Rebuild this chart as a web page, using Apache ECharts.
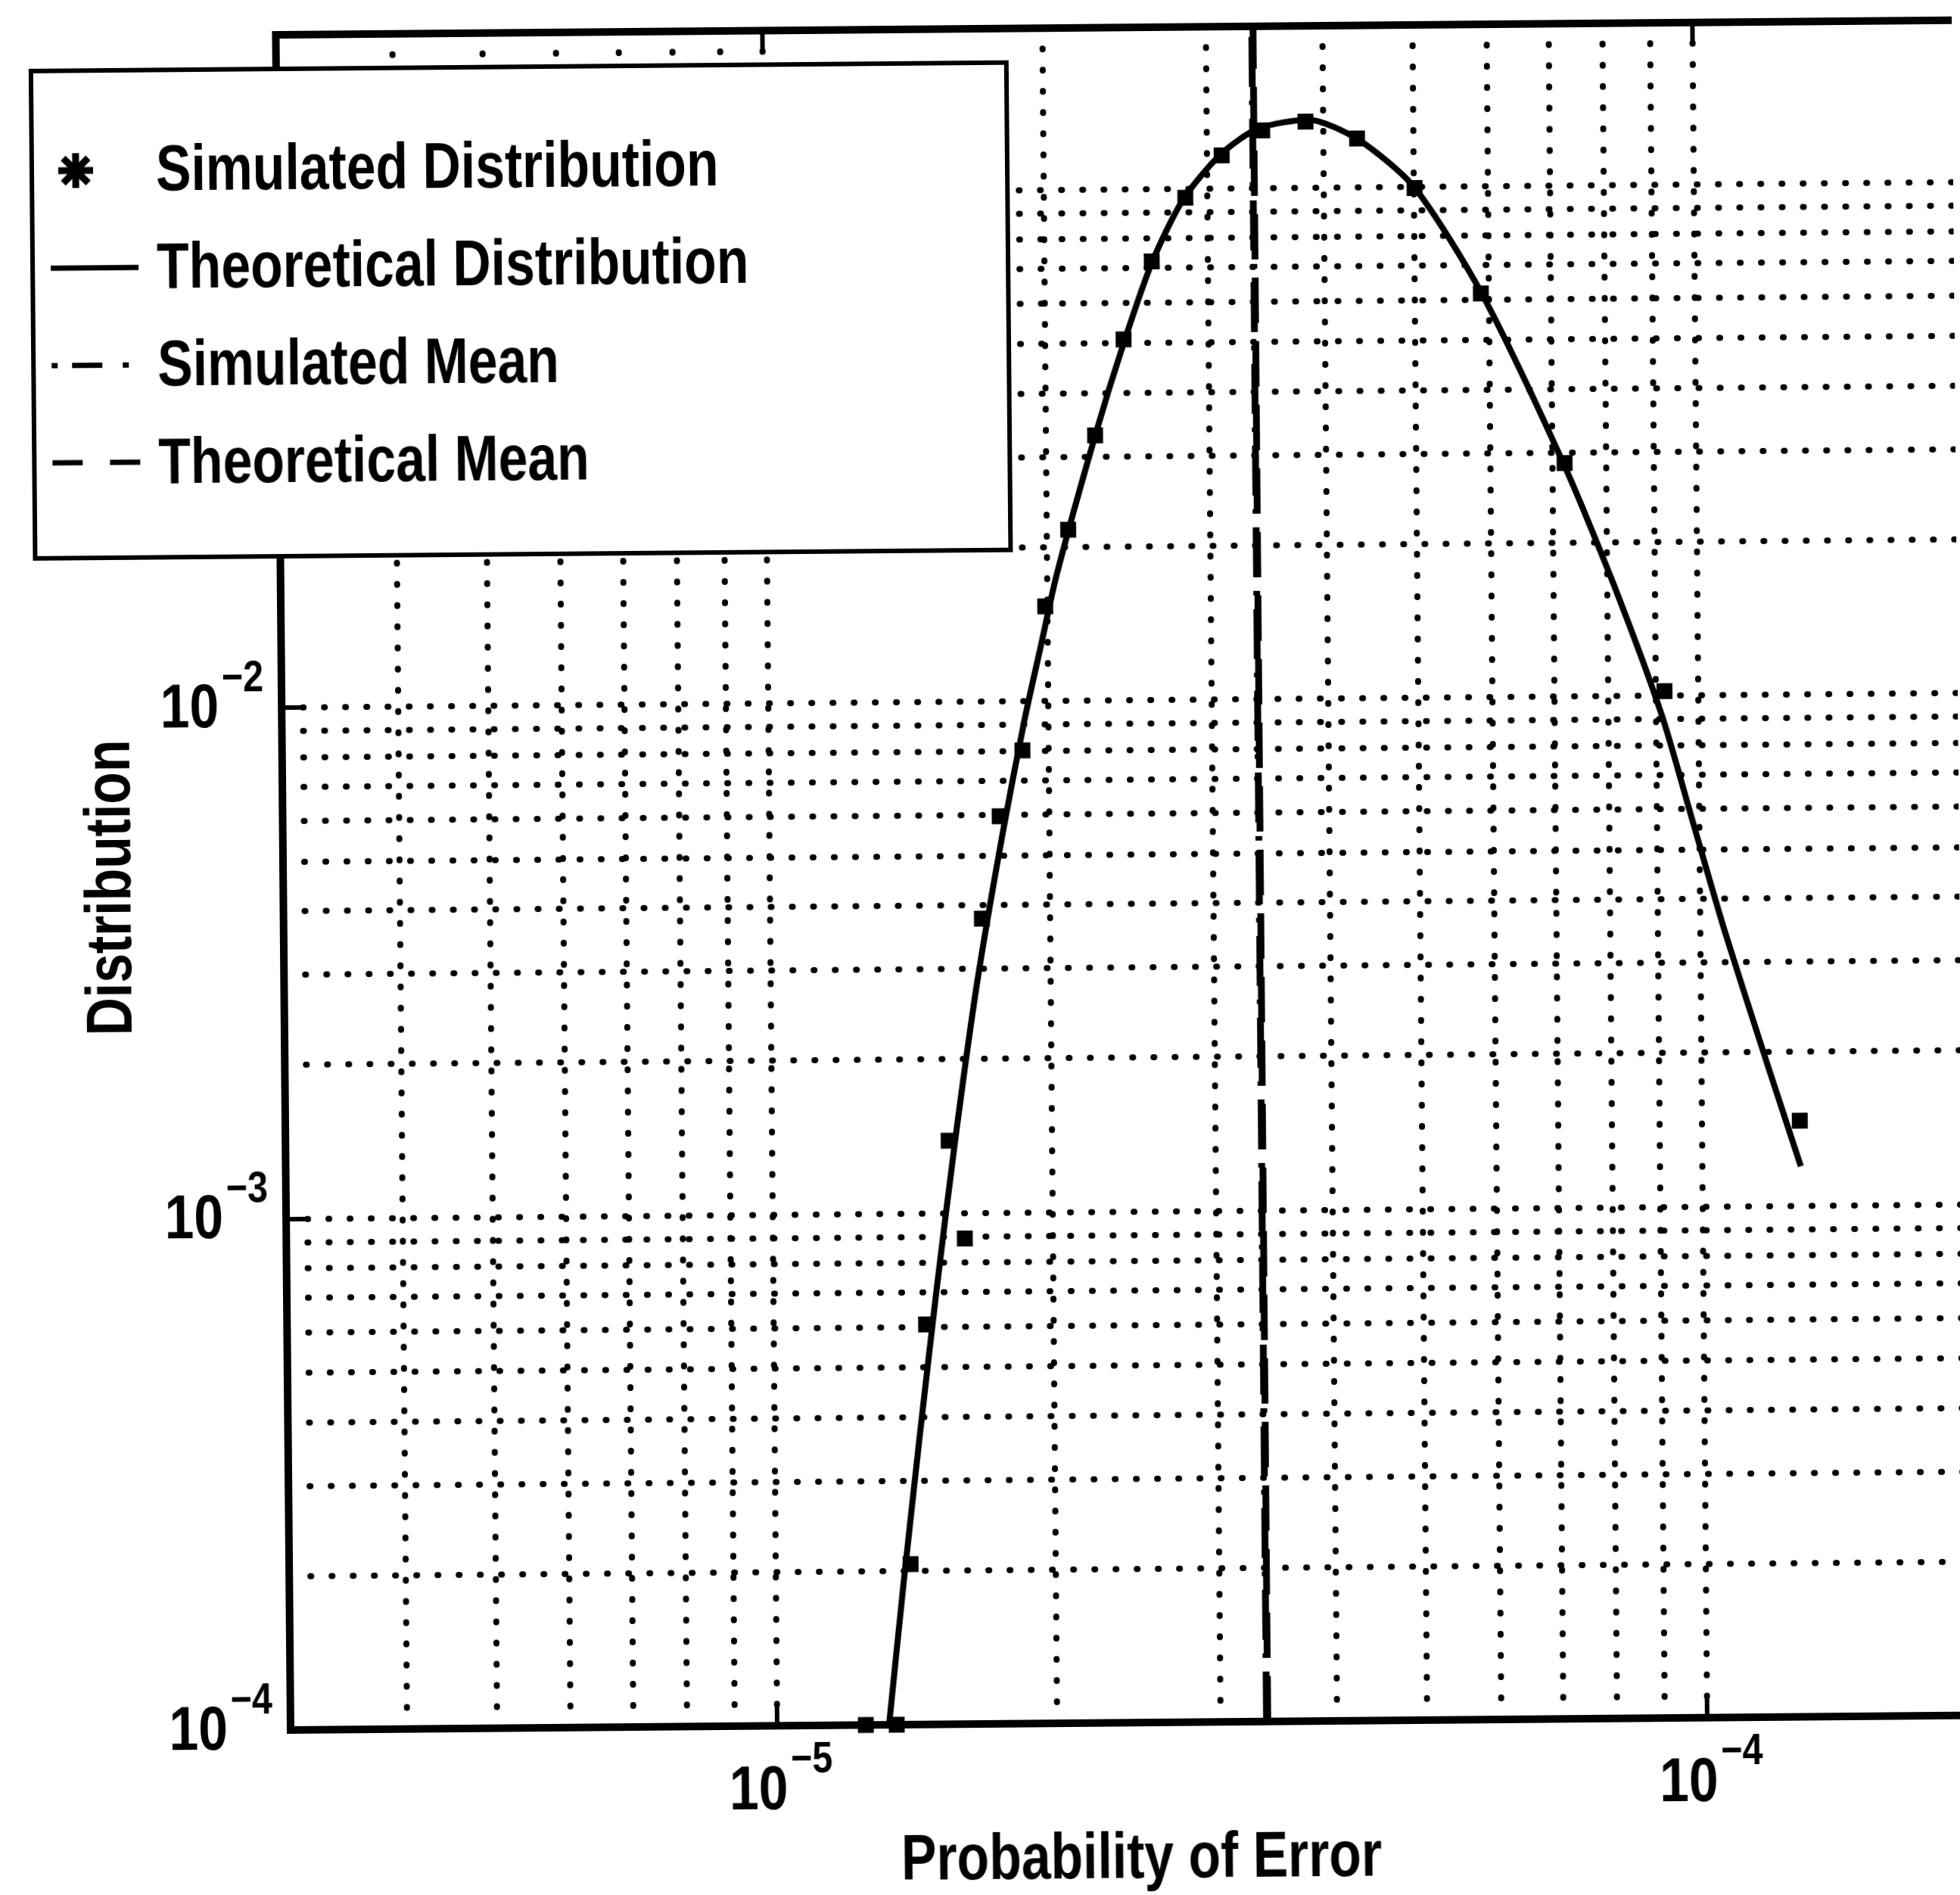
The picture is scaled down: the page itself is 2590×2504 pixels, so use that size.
<!DOCTYPE html>
<html>
<head>
<meta charset="utf-8">
<script src="https://cdn.jsdelivr.net/npm/echarts@6.0.0/dist/echarts.min.js"></script>
<style>
  html, body { margin: 0; padding: 0; background: #fff; overflow: hidden; }
  #chart { width: 2590px; height: 2504px; transform: rotate(-0.5deg); transform-origin: 50% 50%; }
</style>
</head>
<body>
<div id="chart"></div>
<script>
// Simulated distribution of the error probability (histogram points)
const simX = [1.246e-5, 1.345e-5, 1.397e-5, 1.459e-5, 1.549e-5, 1.609e-5, 1.690e-5, 1.770e-5,
              1.875e-5, 1.990e-5, 2.11e-5, 2.26e-5, 2.43e-5, 2.61e-5, 2.84e-5, 3.11e-5,
              3.44e-5, 3.83e-5, 4.35e-5, 5.01e-5, 5.89e-5, 7.22e-5, 9.20e-5, 1.274e-4];
const simY = [1.0e-4, 1.0e-4, 2.06e-4, 6.06e-4, 1.385e-3, 8.91e-4, 3.76e-3, 5.96e-3,
              8.01e-3, 1.531e-2, 2.16e-2, 3.30e-2, 5.08e-2, 7.21e-2, 9.59e-2, 0.1159,
              0.1295, 0.1345, 0.1244, 0.0993, 0.0616, 0.0286, 0.0102, 1.466e-3];

// Theoretical distribution curve
const theoX = [1.320e-5, 1.370e-5, 1.432e-5, 1.500e-5, 1.577e-5, 1.667e-5, 1.783e-5, 1.887e-5,
               1.970e-5, 2.048e-5, 2.265e-5, 2.431e-5, 2.611e-5, 2.823e-5, 3.103e-5, 3.403e-5,
               3.853e-5, 4.357e-5, 5.003e-5, 5.905e-5, 7.191e-5, 8.106e-5, 9.129e-5, 9.847e-5,
               1.063e-4, 1.175e-4, 1.276e-4];
const theoY = [1.0e-4, 1.840e-4, 3.636e-4, 7.18e-4, 1.420e-3, 2.804e-3, 5.54e-3, 9.23e-3,
               1.297e-2, 1.761e-2, 3.339e-2, 5.001e-2, 7.172e-2, 9.506e-2, 0.1165, 0.1305,
               0.1357, 0.1240, 0.0998, 0.0615, 0.0287, 0.01677, 9.18e-3, 5.63e-3,
               3.44e-3, 1.913e-3, 1.194e-3];

// Means
const simulatedMean = 3.36e-5;
const theoreticalMean = 3.37e-5;

// Axis ranges
const xRange = [3e-6, 2e-4];
const yRange = [1e-4, 0.207];

// Labelled decades
const xTickValues = [1e-5, 1e-4];
const yTickValues = [1e-4, 1e-3, 1e-2];

// Dotted grid positions (log grid)
const xGrid = [4e-6, 5e-6, 6e-6, 7e-6, 8e-6, 9e-6,
               1e-5, 2e-5, 3e-5, 4e-5, 5e-5, 6e-5, 7e-5, 8e-5, 9e-5, 1e-4];
const yGrid = [2e-4, 3e-4, 4e-4, 5e-4, 6e-4, 7e-4, 8e-4, 9e-4,
               1e-3, 2e-3, 3e-3, 4e-3, 5e-3, 6e-3, 7e-3, 8e-3, 9e-3,
               1e-2, 2e-2, 3e-2, 4e-2, 5e-2, 6e-2, 7e-2, 8e-2, 9e-2, 1e-1];

// Texts
const legendNames = ['Simulated Distribution', 'Theoretical Distribution', 'Simulated Mean', 'Theoretical Mean'];
const xAxisTitle = 'Probability of Error';
const yAxisTitle = 'Distribution';

const FAMILY = '"Liberation Sans", Arial, sans-serif';
const font = size => 'bold ' + size + 'px ' + FAMILY;
const NARROW = 0.82;      // condensed lettering
const LABEL_NARROW = 0.85;

// Legend box geometry
const LEG = { x: 51, y: 83, w: 1289, h: 644, firstRow: 215, rowStep: 128.7,
              iconX0: 75, iconX1: 191, textX: 215 };
const legendDash = [null, null, [8, 19, 40, 27, 8, 40], [40, 36]];

// Line styles of the plotted series
const meanSimStyle = { color: '#000', width: 9, type: [66, 18, 6, 18] };
const meanTheoStyle = { color: '#000', width: 9, type: [60, 24] };

const tickStyle = { show: true, inside: true, length: 28, lineStyle: { color: '#000', width: 6 } };

const chart = echarts.init(document.getElementById('chart'), null, { renderer: 'canvas' });
chart.setOption({
  animation: false,
  backgroundColor: '#fff',
  grid: {
    left: 375, top: 38, width: 2242, height: 2240,
    show: true, borderColor: '#000', borderWidth: 10, backgroundColor: 'transparent',
    containLabel: false, outerBoundsMode: 'none'
  },
  xAxis: [{
    type: 'log', logBase: 10, min: xRange[0], max: xRange[1], position: 'bottom',
    axisLine: { show: false }, axisTick: tickStyle, axisLabel: { show: false },
    splitLine: { show: false }, minorTick: { show: false }, minorSplitLine: { show: false }
  }, {
    type: 'log', logBase: 10, min: xRange[0], max: xRange[1], position: 'top',
    axisLine: { show: false }, axisTick: tickStyle, axisLabel: { show: false },
    splitLine: { show: false }
  }],
  yAxis: [{
    type: 'log', logBase: 10, min: yRange[0], max: yRange[1],
    axisLine: { show: false }, axisTick: tickStyle, axisLabel: { show: false },
    splitLine: { show: false }, minorTick: { show: false }, minorSplitLine: { show: false }
  }],
  series: [
    {
      name: 'grid', type: 'line', data: [], silent: true, z: 1,
      markLine: {
        z: 1, silent: true, animation: false, symbol: ['none', 'none'], precision: 20,
        label: { show: false }, emphasis: { disabled: true },
        lineStyle: { color: '#000', width: 8, type: [1, 27], cap: 'round' },
        data: xGrid.map(v => ({ xAxis: v })).concat(yGrid.map(v => ({ yAxis: v })))
      }
    },
    {
      name: legendNames[2], type: 'line', z: 3, symbol: 'none', silent: true,
      itemStyle: { color: '#000' }, lineStyle: meanSimStyle,
      data: [[simulatedMean, yRange[0]], [simulatedMean, yRange[1]]]
    },
    {
      name: legendNames[3], type: 'line', z: 3, symbol: 'none', silent: true,
      itemStyle: { color: '#000' }, lineStyle: meanTheoStyle,
      data: [[theoreticalMean, yRange[0]], [theoreticalMean, yRange[1]]]
    },
    {
      name: legendNames[1], type: 'line', z: 4, symbol: 'none', smooth: 0.25, silent: true,
      itemStyle: { color: '#000' },
      lineStyle: { color: '#000', width: 8 },
      data: theoX.map((x, i) => [x, theoY[i]])
    },
    {
      name: legendNames[0], type: 'scatter', z: 5, symbol: 'rect', symbolSize: 21, silent: true,
      itemStyle: { color: '#000', opacity: 1 },
      data: simX.map((x, i) => [x, simY[i]])
    }
  ]
});

// Condensed bold lettering: tick labels (10 with superscript exponent), axis titles, legend
function label(text, x, y, size, align, vAlign, scale, extra) {
  return Object.assign({
    type: 'text', x: x, y: y, scaleX: scale, z: 100, silent: true,
    style: { text: text, font: font(size), fill: '#000',
             align: align, verticalAlign: vAlign, textAlign: align, textVerticalAlign: vAlign }
  }, extra || {});
}
const px = v => chart.convertToPixel({ xAxisIndex: 0 }, v);
const py = v => chart.convertToPixel({ yAxisIndex: 0 }, v);
const exponent = v => '\u2212' + Math.round(-Math.log10(v));

const axisX = px(xRange[0]);
const axisY = py(yRange[0]);
const elements = [];

xTickValues.forEach(v => {
  const x = px(v);
  elements.push(label('10', x + 14, axisY + 87, 82, 'right', 'middle', LABEL_NARROW));
  elements.push(label(exponent(v), x + 18, axisY + 46, 57, 'left', 'middle', LABEL_NARROW));
});
yTickValues.forEach(v => {
  const y = py(v);
  elements.push(label('10', axisX - 83, y + 2, 82, 'right', 'middle', LABEL_NARROW));
  elements.push(label(exponent(v), axisX - 79, y - 38, 57, 'left', 'middle', LABEL_NARROW));
});

const midX = (px(xRange[0]) + px(xRange[1])) / 2;
const midY = (py(yRange[0]) + py(yRange[1])) / 2;
elements.push(label(xAxisTitle, midX + 2, axisY + 182, 85, 'center', 'middle', NARROW));
elements.push(label(yAxisTitle, axisX - 225, midY + 5, 85, 'center', 'middle', NARROW, { rotation: Math.PI / 2 }));

// Legend: white box with black frame, key glyphs and entry names
elements.push({
  type: 'rect', z: 90, silent: true,
  shape: { x: LEG.x, y: LEG.y, width: LEG.w, height: LEG.h },
  style: { fill: '#fff', stroke: '#000', lineWidth: 6 }
});
legendNames.forEach((name, i) => {
  const y = LEG.firstRow + i * LEG.rowStep;
  if (i === 0) {
    // asterisk key for the simulated points
    const cx = 109, r = 23, d = 16.5;
    [[-r, 0, r, 0], [0, -r, 0, r], [-d, -d, d, d], [d, -d, -d, d]].forEach(s => {
      elements.push({
        type: 'line', z: 95, silent: true, x: cx, y: y,
        shape: { x1: s[0], y1: s[1], x2: s[2], y2: s[3] },
        style: { stroke: '#000', lineWidth: 9, lineCap: 'butt' }
      });
    });
  } else {
    elements.push({
      type: 'line', z: 95, silent: true,
      shape: { x1: LEG.iconX0, y1: y, x2: LEG.iconX1, y2: y },
      style: { stroke: '#000', lineWidth: 7, lineDash: legendDash[i] || null }
    });
  }
  elements.push(label(name, LEG.textX, y + 4, 85, 'left', 'middle', NARROW));
});

chart.setOption({ graphic: { elements: elements } });
</script>
</body>
</html>
